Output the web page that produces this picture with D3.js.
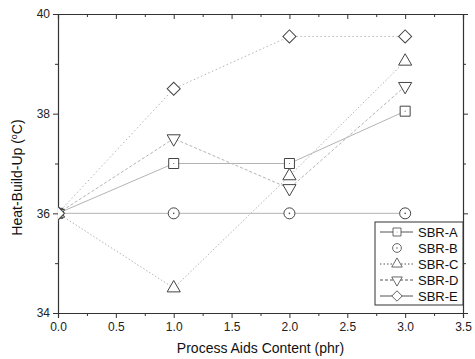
<!DOCTYPE html>
<html>
<head>
<meta charset="utf-8">
<script src="https://cdn.jsdelivr.net/npm/d3@7"></script>
<style>
  body { margin: 0; background: #fff; }
  svg { font-family: "Liberation Sans", Arial, sans-serif; }
  .axis path, .axis line { stroke: #333; }
  .axis text { fill: #222; font-size: 12px; }
</style>
</head>
<body>
<script>
// data
const contents = [0, 1, 2, 3];
const seriesNames = ["SBR-A", "SBR-B", "SBR-C", "SBR-D", "SBR-E"];
const sbrA = [36, 37, 37, 38.05];
const sbrB = [36, 36, 36, 36];
const sbrC = [36, 34.5, 36.75, 39.05];
const sbrD = [36, 37.5, 36.5, 38.55];
const sbrE = [36, 38.5, 39.55, 39.55];
const xTicks = [0, 0.5, 1, 1.5, 2, 2.5, 3, 3.5];
const yTicks = [34, 36, 38, 40];

const values = [sbrA, sbrB, sbrC, sbrD, sbrE];
const dashes = [null, null, "1.5,2", "3,2", "1.5,2.5"];
const shapes = ["square", "circle", "triangle", "triangleDown", "diamond"];

const width = 475, height = 359;
const margin = {top: 14, right: 12, bottom: 46, left: 58};
const w = width - margin.left - margin.right;
const h = height - margin.top - margin.bottom;

const svg = d3.select("body").append("svg")
  .attr("width", width)
  .attr("height", height);

const x = d3.scaleLinear().domain([0, 3.5]).range([0, w]);
const y = d3.scaleLinear().domain([34, 40]).range([h, 0]);

const g = svg.append("g").attr("transform", `translate(${margin.left},${margin.top})`);

g.append("clipPath").attr("id", "clip")
  .append("rect").attr("width", w).attr("height", h);

// minor ticks
const xMinor = d3.range(0.25, 3.5, 0.5);
const yMinor = [35, 37, 39];

g.append("g").attr("class", "axis")
  .attr("transform", `translate(0,${h})`)
  .call(d3.axisBottom(x).tickValues(xTicks).tickFormat(d3.format(".1f")).tickSize(5).tickPadding(4));
g.append("g").attr("class", "axis")
  .attr("transform", `translate(0,${h})`)
  .call(d3.axisBottom(x).tickValues(xMinor).tickFormat("").tickSize(3))
  .select(".domain").remove();

g.append("g").attr("class", "axis")
  .call(d3.axisTop(x).tickValues(xTicks).tickFormat("").tickSize(-5));
g.append("g").attr("class", "axis")
  .call(d3.axisTop(x).tickValues(xMinor).tickFormat("").tickSize(-3))
  .select(".domain").remove();

g.append("g").attr("class", "axis")
  .call(d3.axisLeft(y).tickValues(yTicks).tickFormat(d3.format("d")).tickSize(5).tickPadding(3));
g.append("g").attr("class", "axis")
  .call(d3.axisLeft(y).tickValues(yMinor).tickFormat("").tickSize(3))
  .select(".domain").remove();

g.append("g").attr("class", "axis")
  .attr("transform", `translate(${w},0)`)
  .call(d3.axisRight(y).tickValues(yTicks).tickFormat("").tickSize(5));
g.append("g").attr("class", "axis")
  .attr("transform", `translate(${w},0)`)
  .call(d3.axisRight(y).tickValues(yMinor).tickFormat("").tickSize(3))
  .select(".domain").remove();

g.selectAll(".axis .domain").attr("stroke-width", 1.2);

// axis titles
svg.append("text")
  .attr("x", margin.left + w / 2)
  .attr("y", height - 6)
  .attr("text-anchor", "middle")
  .style("font-size", "14px")
  .attr("fill", "#111")
  .text("Process Aids Content (phr)");

const yt = svg.append("text")
  .attr("transform", `translate(22,${margin.top + h / 2 + 14}) rotate(-90)`)
  .attr("text-anchor", "middle")
  .style("font-size", "14px")
  .attr("fill", "#111");
yt.append("tspan").text("Heat-Build-Up (");
yt.append("tspan").attr("dy", -5).style("font-size", "9px").text("o");
yt.append("tspan").attr("dy", 5).text("C)");

function marker(sel, shape) {
  if (shape === "circle") {
    sel.append("circle").attr("r", 5.5).attr("fill", "#fff").attr("stroke", "#444");
    sel.append("circle").attr("r", 0.8).attr("fill", "#444");
  } else if (shape === "square") {
    sel.append("path").attr("d", d3.symbol(d3.symbolSquare, 100)())
      .attr("fill", "#fff").attr("stroke", "#444");
    sel.append("circle").attr("r", 0.6).attr("fill", "#666");
  } else if (shape === "triangle") {
    sel.append("path").attr("d", d3.symbol(d3.symbolTriangle, 75)())
      .attr("fill", "#fff").attr("stroke", "#444");
  } else if (shape === "triangleDown") {
    sel.append("path").attr("d", d3.symbol(d3.symbolTriangle, 75)())
      .attr("transform", "rotate(180)")
      .attr("fill", "#fff").attr("stroke", "#444");
  } else {
    sel.append("path").attr("d", d3.symbol(d3.symbolSquare, 85)())
      .attr("transform", "rotate(45)")
      .attr("fill", "#fff").attr("stroke", "#444");
  }
}

const line = d3.line().x((d, i) => x(contents[i])).y(d => y(d));

const plot = g.append("g").attr("clip-path", "url(#clip)");

values.forEach((vals, k) => {
  plot.append("path")
    .datum(vals)
    .attr("d", line)
    .attr("fill", "none")
    .attr("stroke", "#b4b4b4")
    .attr("stroke-width", 1)
    .attr("stroke-dasharray", dashes[k]);
});

values.forEach((vals, k) => {
  plot.selectAll(null)
    .data(vals)
    .enter().append("g")
    .attr("transform", (d, i) => `translate(${x(contents[i])},${y(d)})`)
    .each(function() { marker(d3.select(this), shapes[k]); });
});

// legend
const lg = g.append("g").attr("transform", `translate(${w - 88},${h - 91})`);
lg.append("rect")
  .attr("width", 88).attr("height", 83)
  .attr("fill", "#fff").attr("stroke", "#333");

seriesNames.forEach((name, k) => {
  const row = lg.append("g").attr("transform", `translate(0,${10 + k * 16})`);
  if (k !== 1) {
    row.append("line")
      .attr("x1", 5).attr("x2", 38)
      .attr("stroke", "#555")
      .attr("stroke-dasharray", k === 4 ? null : dashes[k]);
  }
  const m = row.append("g");
  marker(m, shapes[k]);
  m.attr("transform", "translate(22,0) scale(0.8)");
  row.append("text")
    .attr("x", 43).attr("y", 5)
    .style("font-size", "13px")
    .attr("fill", "#111")
    .text(name);
});
</script>
</body>
</html>
